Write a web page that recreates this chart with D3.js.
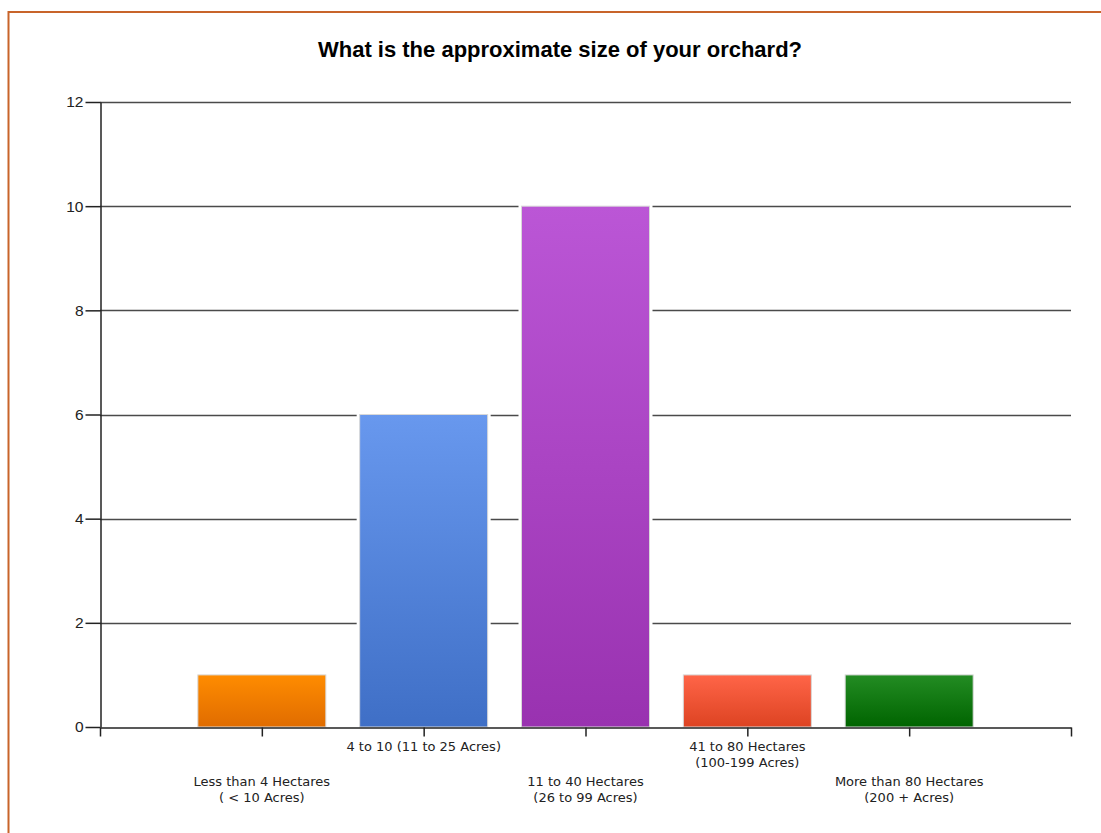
<!DOCTYPE html>
<html><head><meta charset="utf-8">
<script src="https://cdn.jsdelivr.net/npm/d3@7"></script>
<style>body{margin:0;background:#fff;} svg{display:block;}</style>
</head><body>
<svg id="c" width="1101" height="833"></svg>
<script>
const categories = [
  ["Less than 4 Hectares", "( < 10 Acres)"],
  ["4 to 10 (11 to 25 Acres)"],
  ["11 to 40 Hectares", "(26 to 99 Acres)"],
  ["41 to 80 Hectares", "(100-199 Acres)"],
  ["More than 80 Hectares", "(200 + Acres)"]
];
const values = [1, 6, 10, 1, 1];
const yTicks = [0, 2, 4, 6, 8, 10, 12];
const colorsTop = ["#ff8c00", "#6898ee", "#bb56d6", "#ff6548", "#238c23"];
const colorsBottom = ["#e06c00", "#3f6fc6", "#9932b0", "#dd4322", "#006400"];
const title = "What is the approximate size of your orchard?";

const svg = d3.select("#c");
// frame
svg.append("rect").attr("x", 8.5).attr("y", 12).attr("width", 1110).attr("height", 840)
  .attr("fill", "none").attr("stroke", "#c8642a").attr("stroke-width", 2);

const L = 100, R = 1071, T = 102, B = 727;
const x = d3.scaleLinear().domain([0, categories.length + 1]).range([L, R]);
const y = d3.scaleLinear().domain([0, 12]).range([B, T]);
const bw = 128;

const defs = svg.append("defs");
values.forEach((v, i) => {
  const g = defs.append("linearGradient").attr("id", "g" + i).attr("x1", 0).attr("y1", 0).attr("x2", 0).attr("y2", 1);
  g.append("stop").attr("offset", "0%").attr("stop-color", colorsTop[i]);
  g.append("stop").attr("offset", "100%").attr("stop-color", colorsBottom[i]);
});

svg.append("text").attr("x", 560).attr("y", 57).attr("text-anchor", "middle")
  .style("font-family", "Liberation Sans, Arial, sans-serif").style("font-weight", "bold")
  .style("font-size", "22px").attr("fill", "#000").text(title);

// grid
svg.append("g").selectAll("line").data(yTicks.filter(d => d > 0)).join("line")
  .attr("x1", L).attr("x2", R).attr("y1", d => Math.round(y(d)) + 0.5).attr("y2", d => Math.round(y(d)) + 0.5)
  .attr("stroke", "#4a4a4a").attr("stroke-width", 1.3);

// bars
svg.append("g").selectAll("rect").data(values).join("rect")
  .attr("x", (d, i) => x(i + 1) - bw / 2 - 3)
  .attr("width", bw + 6)
  .attr("y", d => y(d) - 3).attr("height", d => B - y(d) + 3)
  .attr("fill", "#fff");
svg.append("g").selectAll("rect").data(values).join("rect")
  .attr("x", (d, i) => x(i + 1) - bw / 2)
  .attr("width", bw)
  .attr("y", d => y(d)).attr("height", d => B - y(d))
  .attr("fill", (d, i) => `url(#g${i})`).attr("stroke", "#d8d8d8").attr("stroke-width", 1);

// y axis
const yAxis = d3.axisLeft(y).tickValues(yTicks).tickSize(15).tickPadding(2).tickSizeOuter(0);
const ya = svg.append("g").attr("transform", `translate(${L + 0.5},0)`).call(yAxis);
ya.select(".domain").attr("stroke", "#222").attr("stroke-width", 1.5);
ya.selectAll(".tick line").attr("stroke", "#222").attr("stroke-width", 1.5);
ya.selectAll("text").style("font-family", "Liberation Sans, Arial, sans-serif").style("font-size", "15.5px").attr("fill", "#222");

// x axis
const xAxis = d3.axisBottom(x).tickValues(d3.range(0, categories.length + 2)).tickSize(9).tickFormat("").tickSizeOuter(0);
const xa = svg.append("g").attr("transform", `translate(0,${B + 0.5})`).call(xAxis);
xa.select(".domain").attr("stroke", "#222").attr("stroke-width", 1.5);
xa.selectAll(".tick line").attr("stroke", "#222").attr("stroke-width", 1.5);

// x labels
const lab = svg.append("g").style("font-family", "DejaVu Sans, Verdana, sans-serif").style("font-size", "13px").attr("fill", "#222").attr("text-anchor", "middle");
categories.forEach((c, i) => {
  const base = i % 2 === 0 ? 786 : 751;
  c.forEach((line, j) => {
    lab.append("text").attr("x", x(i + 1)).attr("y", base + j * 15.5).text(line);
  });
});
</script>
</body></html>
